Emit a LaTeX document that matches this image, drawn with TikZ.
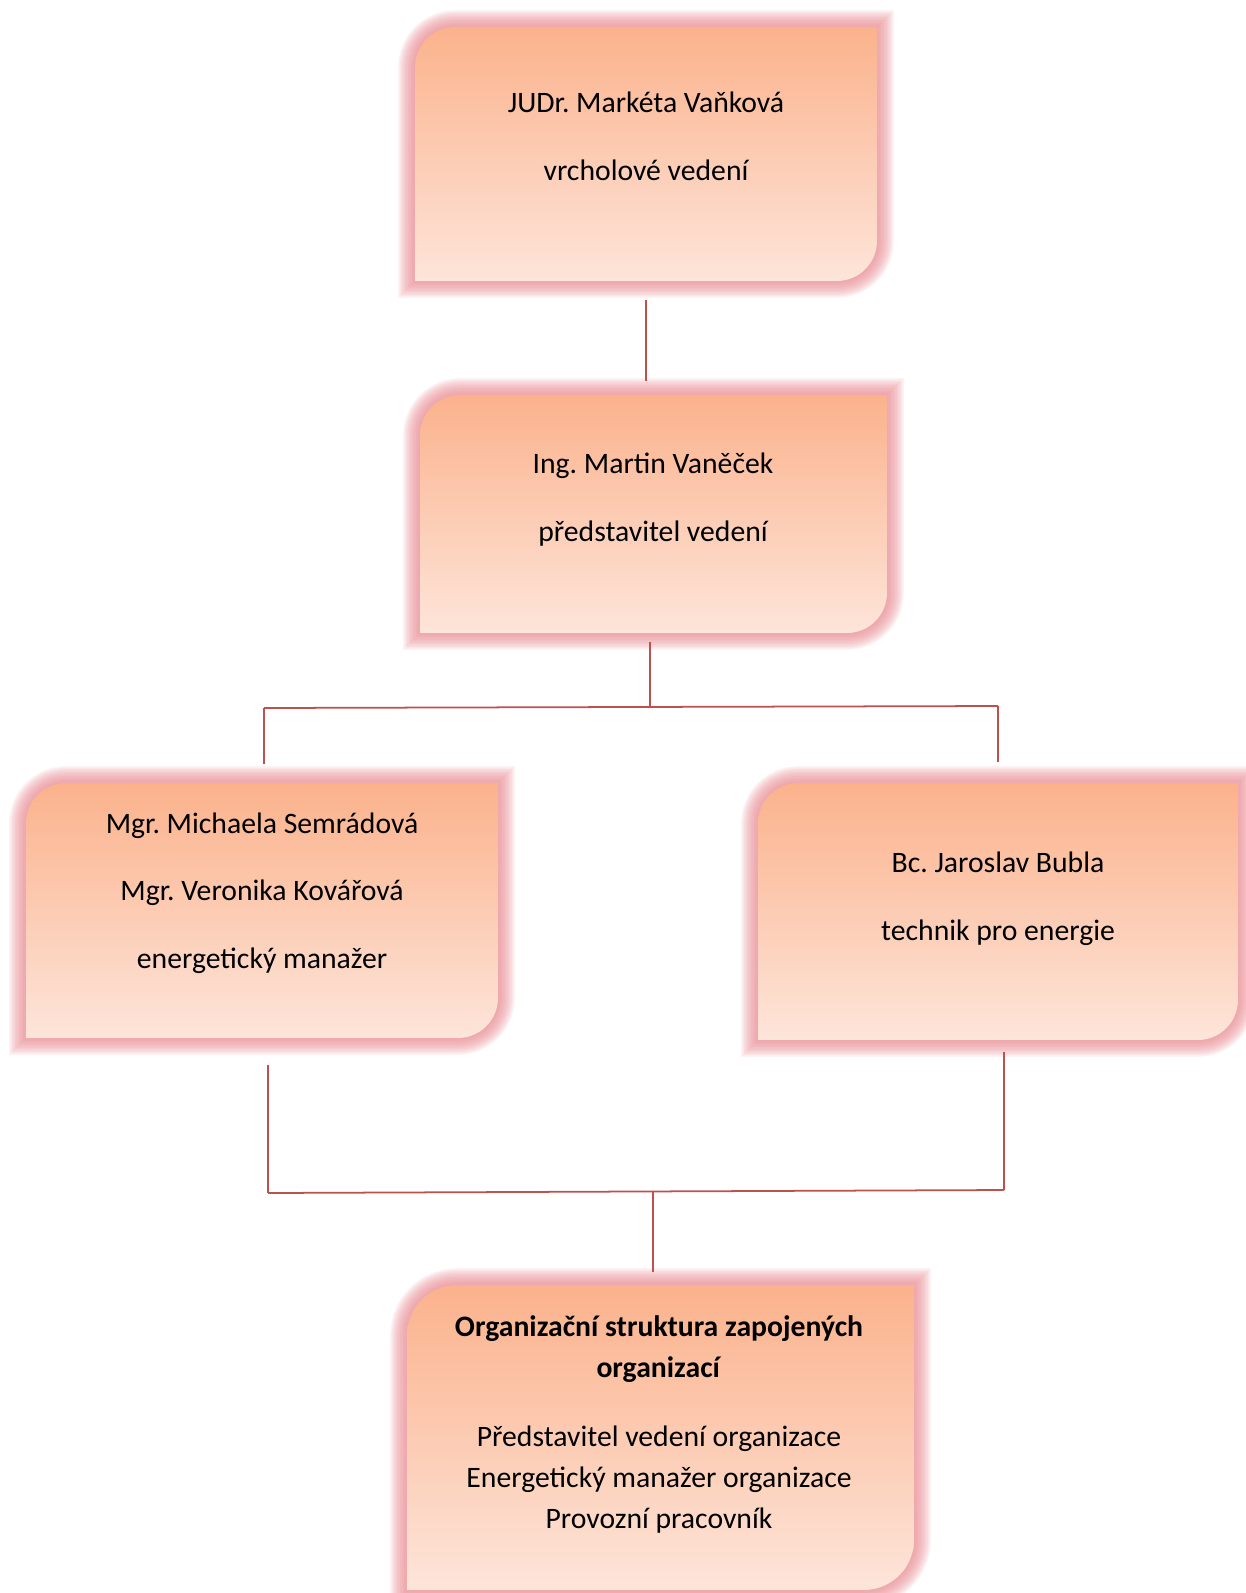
\documentclass[tikz,border=0pt]{standalone}
\usepackage{fontspec}
\setmainfont{Carlito}
\usetikzlibrary{positioning}
\usetikzlibrary{backgrounds}
\frenchspacing

\definecolor{peachtop}{RGB}{251,178,140}
\definecolor{peachbottom}{RGB}{253,229,218}
\definecolor{glowpink}{RGB}{232,140,148}
\definecolor{linered}{RGB}{192,80,77}

\newcommand{\cardpath}[2]{(#1.south west) -- ([yshift=-#2]#1.north west)
  arc[start angle=180, end angle=90, radius=#2] -- (#1.north east)
  -- ([yshift=#2]#1.south east) arc[start angle=0, end angle=-90, radius=#2] -- cycle}
\newcommand{\card}[2]{%
  \foreach \w in {1,...,12}
    \draw[glowpink, line width=1.6*\w pt, opacity=0.11] \cardpath{#1}{#2};
  \shade[top color=peachtop, bottom color=peachbottom] \cardpath{#1}{#2};}

\begin{document}
\begin{tikzpicture}[x=0.02cm, y=-0.02cm,
    box/.style={inner sep=0pt, outer sep=0pt},
    txt/.style={align=center, anchor=base, inner sep=0pt, font=\fontsize{16.9pt}{38.4pt}\selectfont},
    link/.style={draw=linered, line width=1pt}]
    \useasboundingbox (0,0) rectangle (1245,1593);

    \node (vrchol)[box, minimum width=9.24cm, minimum height=5.08cm] at (646, 154) {};
    \node (predstavitel)[box, minimum width=9.34cm, minimum height=4.76cm] at (653.5, 514) {};
    \node (manazer)[box, minimum width=9.44cm, minimum height=5.1cm] at (262, 910.5) {};
    \node (technik)[box, minimum width=9.6cm, minimum height=5.14cm] at (998, 911.5) {};
    \node (organizace)[box, minimum width=10.14cm, minimum height=6.1cm] at (660.5, 1437.5) {};

    \begin{pgfonlayer}{background}
        \card{vrchol}{0.8cm}
        \card{predstavitel}{0.8cm}
        \card{manazer}{0.8cm}
        \card{technik}{0.8cm}
        \card{organizace}{1cm}
    \end{pgfonlayer}

    \node (vrchol-t)[txt] at (646, 180) {JUDr. Markéta Vaňková\\vrcholové vedení};
    \node (predstavitel-t)[txt] at (653, 541) {Ing. Martin Vaněček\\představitel vedení};
    \node (manazer-t)[txt] at (262, 968) {Mgr. Michaela Semrádová\\Mgr. Veronika Kovářová\\energetický manažer};
    \node (technik-t)[txt] at (998, 940) {Bc. Jaroslav Bubla\\technik pro energie};
    \node (organizace-t)[txt, font=\fontsize{16.9pt}{23.3pt}\selectfont] at (659, 1528)
        {\textbf{Organizační struktura zapojených}\\\textbf{organizací}\\[16pt]
         Představitel vedení organizace\\Energetický manažer organizace\\Provozní pracovník};

    \coordinate (split) at (650, 707);
    \coordinate (splitL) at (264, 708);
    \coordinate (splitR) at (998, 706);
    \coordinate (joinL) at (268, 1193);
    \coordinate (joinR) at (1004, 1190);
    \coordinate (join) at (653, 1192);

    \path [link, shorten <=0.38cm, shorten >=0.28cm] (vrchol.south) -- (vrchol.south |- predstavitel.north);
    \path [link, shorten <=0.18cm] (predstavitel.south -| split) -- (split);
    \path [link] (splitL) -- (splitR);
    \path [link, shorten >=0.38cm] (splitL) -- (splitL |- manazer.north);
    \path [link, shorten >=0.42cm] (splitR) -- (splitR |- technik.north);
    \path [link, shorten <=0.54cm] (manazer.south -| joinL) -- (joinL);
    \path [link, shorten <=0.24cm] (technik.south -| joinR) -- (joinR);
    \path [link] (joinL) -- (joinR);
    \path [link, shorten >=0.26cm] (join) -- (join |- organizace.north);
\end{tikzpicture}
\end{document}
